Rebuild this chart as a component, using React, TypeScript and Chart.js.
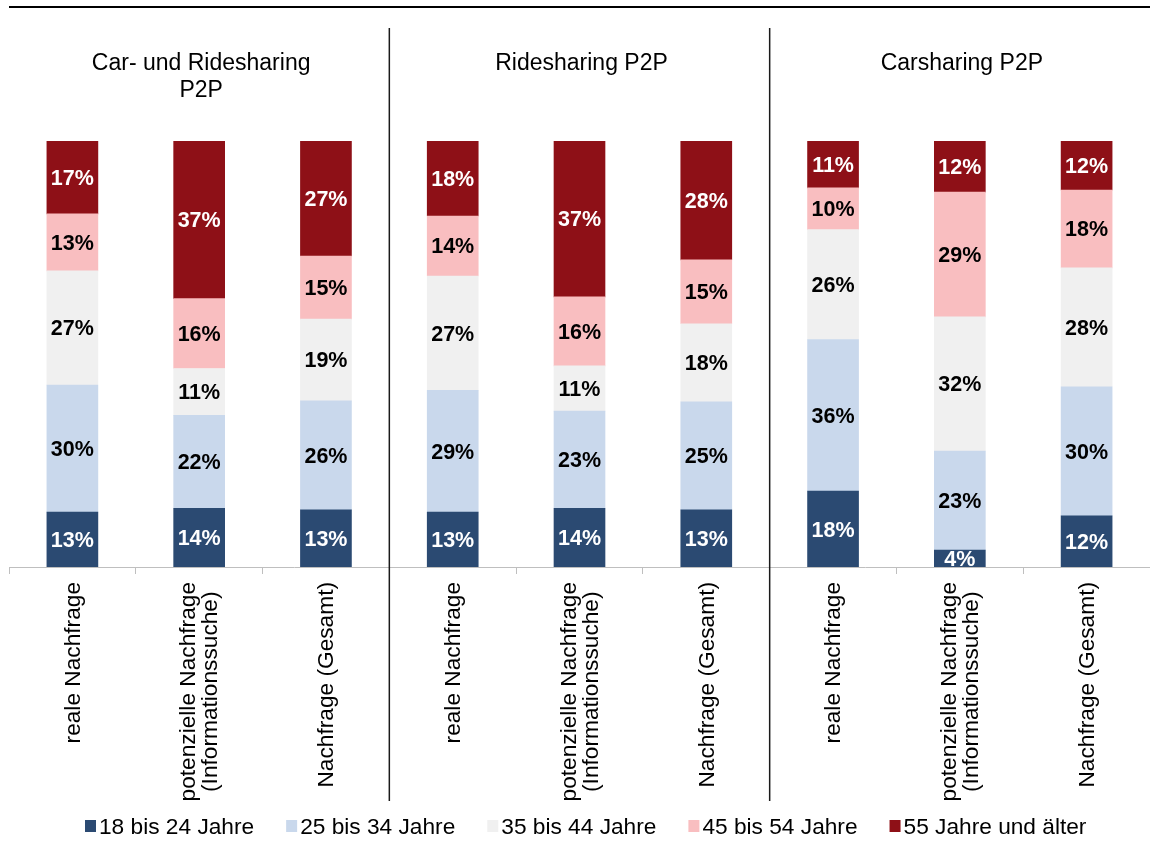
import React, { useEffect, useRef } from "react";
import { Chart, registerables } from "chart.js";

Chart.register(...registerables);

const categories: (string | string[])[] = [
  "reale Nachfrage",
  ["potenzielle Nachfrage", "(Informationssuche)"],
  "Nachfrage (Gesamt)",
  "reale Nachfrage",
  ["potenzielle Nachfrage", "(Informationssuche)"],
  "Nachfrage (Gesamt)",
  "reale Nachfrage",
  ["potenzielle Nachfrage", "(Informationssuche)"],
  "Nachfrage (Gesamt)",
];

const groupTitles: string[][] = [
  ["Car- und Ridesharing", "P2P"],
  ["Ridesharing P2P"],
  ["Carsharing P2P"],
];

const seriesLabels = [
  "18 bis 24 Jahre",
  "25 bis 34 Jahre",
  "35 bis 44 Jahre",
  "45 bis 54 Jahre",
  "55 Jahre und älter",
];

const s18to24 = [12.9, 13.8, 13.4, 12.9, 13.8, 13.4, 17.8, 4.0, 12.0];
const s25to34 = [29.8, 21.8, 25.6, 28.6, 22.8, 25.4, 35.6, 23.2, 30.3];
const s35to44 = [26.8, 11.0, 19.2, 26.8, 10.6, 18.3, 25.8, 31.5, 27.9];
const s45to54 = [13.4, 16.4, 14.8, 14.1, 16.2, 15.0, 9.8, 29.3, 18.3];
const s55plus = [17.1, 36.9, 27.0, 17.6, 36.6, 27.9, 11.0, 12.0, 11.5];

const seriesColors = ["#2B4A72", "#C9D8EC", "#F0F0F0", "#F9BEC0", "#8E1017"];
const labelColors = ["#FFFFFF", "#000000", "#000000", "#000000", "#FFFFFF"];

const FONT = '"Liberation Sans", Arial, sans-serif';

const overlayPlugin = {
  id: "overlay",
  afterDatasetsDraw(chart: any) {
    const ctx = chart.ctx;
    const area = chart.chartArea;
    ctx.save();
    ctx.beginPath();
    ctx.rect(area.left, area.top, area.right - area.left, area.bottom - area.top);
    ctx.clip();
    ctx.font = `bold 21.5px ${FONT}`;
    ctx.textAlign = "center";
    ctx.textBaseline = "middle";
    chart.data.datasets.forEach((ds: any, di: number) => {
      const meta = chart.getDatasetMeta(di);
      meta.data.forEach((el: any, i: number) => {
        const v = ds.data[i];
        const cy = (el.y + el.base) / 2;
        ctx.fillStyle = labelColors[di];
        ctx.fillText(`${Math.round(v)}%`, el.x, cy + 1.5);
      });
    });
    ctx.restore();
  },
  afterDraw(chart: any) {
    const ctx = chart.ctx;
    const xs = chart.scales.x;
    const area = chart.chartArea;
    ctx.save();

    // top rule
    ctx.strokeStyle = "#000000";
    ctx.lineWidth = 2;
    ctx.beginPath();
    ctx.moveTo(area.left, 7);
    ctx.lineTo(chart.width, 7);
    ctx.stroke();

    // group separators
    ctx.strokeStyle = "#1A1A1A";
    ctx.lineWidth = 1.5;
    [3, 6].forEach((k) => {
      const x = (xs.getPixelForValue(k - 1) + xs.getPixelForValue(k)) / 2;
      ctx.beginPath();
      ctx.moveTo(x, 28);
      ctx.lineTo(x, 801);
      ctx.stroke();
    });

    // group titles
    ctx.fillStyle = "#000000";
    ctx.font = `23px ${FONT}`;
    ctx.textAlign = "center";
    ctx.textBaseline = "alphabetic";
    groupTitles.forEach((lines, g) => {
      const x = xs.getPixelForValue(g * 3 + 1) + 2;
      lines.forEach((line, li) => {
        ctx.fillText(line, x, 70 + li * 27);
      });
    });

    // category labels (rotated)
    ctx.font = `22.7px ${FONT}`;
    categories.forEach((lab, i) => {
      const lines = Array.isArray(lab) ? lab : [lab];
      const x = xs.getPixelForValue(i);
      const maxW = Math.max(...lines.map((l) => ctx.measureText(l).width));
      const cy = 582 + maxW / 2;
      const offsets = lines.length === 1 ? [1] : [-10, 12];
      lines.forEach((line, li) => {
        ctx.save();
        ctx.translate(x + offsets[li], cy);
        ctx.rotate(-Math.PI / 2);
        ctx.textAlign = "center";
        ctx.textBaseline = "middle";
        ctx.fillText(line, 0, 0);
        ctx.restore();
      });
    });

    // legend
    let lx = 85;
    ctx.font = `22.7px ${FONT}`;
    ctx.textAlign = "left";
    ctx.textBaseline = "middle";
    chart.data.datasets.forEach((ds: any) => {
      ctx.fillStyle = ds.backgroundColor;
      ctx.fillRect(lx, 820, 11, 12);
      ctx.fillStyle = "#000000";
      const tx = lx + 14;
      ctx.fillText(ds.label, tx, 828);
      lx = tx + ctx.measureText(ds.label).width + 32;
    });

    ctx.restore();
  },
};

export default function App() {
  const ref = useRef<HTMLCanvasElement | null>(null);
  useEffect(() => {
    if (!ref.current) return;
    const seriesData = [s18to24, s25to34, s35to44, s45to54, s55plus];
    const chart = new Chart(ref.current, {
      type: "bar",
      data: {
        labels: categories.map((c) => (Array.isArray(c) ? c.join(" ") : c)),
        datasets: seriesData.map((d, i) => ({
          label: seriesLabels[i],
          data: d,
          backgroundColor: seriesColors[i],
          borderWidth: 0,
          barThickness: 51,
        })),
      },
      options: {
        responsive: false,
        animation: false,
        devicePixelRatio: 1,
        layout: { padding: { top: 141, left: 9, right: 0, bottom: 267 } },
        plugins: {
          legend: { display: false },
          title: { display: false },
          tooltip: { enabled: false },
        },
        scales: {
          x: {
            stacked: true,
            offset: true,
            ticks: { display: false },
            grid: {
              offset: true,
              drawOnChartArea: false,
              drawTicks: true,
              tickLength: 7,
              color: "#BFBFBF",
              lineWidth: 1,
            },
            border: { display: true, color: "#BFBFBF", width: 1 },
          },
          y: {
            stacked: true,
            min: 0,
            max: 100,
            display: false,
          },
        },
      },
      plugins: [overlayPlugin],
    });
    return () => chart.destroy();
  }, []);
  return (
    <div style={{ position: "absolute", left: 0, top: 0, width: 1150, height: 841, background: "#fff" }}>
      <canvas ref={ref} width={1150} height={841} style={{ width: 1150, height: 841 }} />
    </div>
  );
}
